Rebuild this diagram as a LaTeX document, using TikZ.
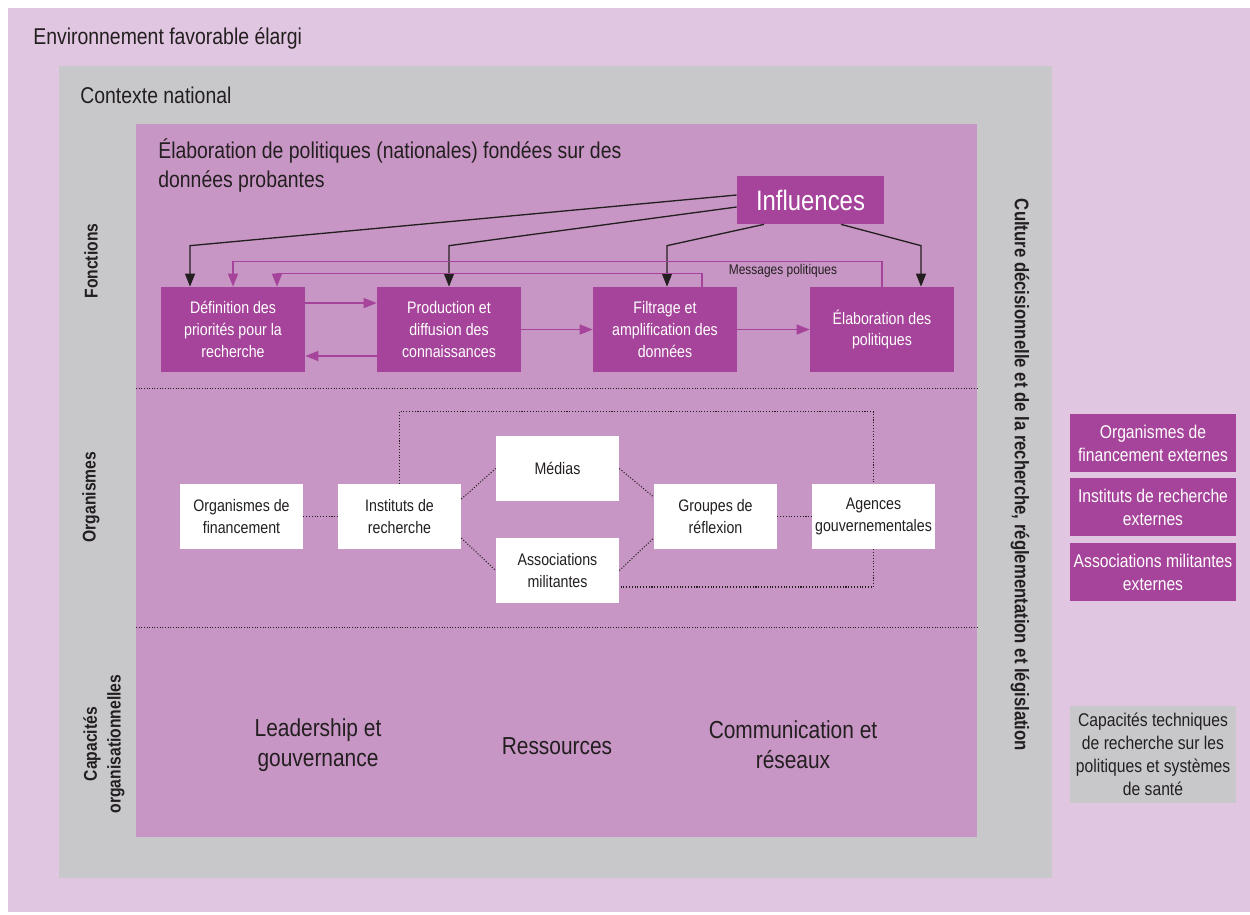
\documentclass[tikz,border=0pt]{standalone}
\usepackage{fontspec}
\setmainfont{Liberation Sans}[FakeStretch=0.85]
\usetikzlibrary{arrows.meta}
\definecolor{envbg}{RGB}{224,198,224}
\definecolor{ctxgray}{RGB}{200,200,202}
\definecolor{polbg}{RGB}{200,150,196}
\definecolor{plum}{RGB}{166,67,154}
\definecolor{ink}{RGB}{35,31,32}
\tikzset{
  fbox/.style={fill=plum, text=white, minimum width=2.88cm, minimum height=1.7cm, align=center, inner sep=0pt, font=\fontsize{9.5}{12.5}\selectfont},
  obox/.style={fill=white, text=ink, minimum width=2.46cm, minimum height=1.3cm, align=center, inner sep=0pt, font=\fontsize{9.5}{12.5}\selectfont},
  xbox/.style={fill=plum, text=white, minimum width=3.32cm, minimum height=1.16cm, align=center, inner sep=0pt, font=\fontsize{10.5}{13}\selectfont},
  title/.style={text=ink, anchor=west, inner sep=0pt, font=\fontsize{13}{16.5}\selectfont},
  sidelabel/.style={text=ink, inner sep=0pt, align=center, font=\fontsize{10.5}{13.5}\selectfont\bfseries},
  caplabel/.style={text=ink, inner sep=0pt, align=center, font=\fontsize{14}{17}\selectfont},
  inflarrow/.style={draw=ink, line width=0.75pt, -{Triangle[length=0.26cm,width=0.2cm]}},
  msgarrow/.style={draw=plum, line width=0.75pt, -{Triangle[length=0.26cm,width=0.2cm]}},
  orglink/.style={draw=ink, line width=0.6pt, densely dotted},
  sep/.style={draw=ink, line width=0.5pt, densely dotted}
}
\begin{document}
\begin{tikzpicture}[x=0.02cm, y=-0.02cm]
\useasboundingbox (0,0) rectangle (1250,914);
\fill[envbg] (8,8) rectangle (1250,912);
\fill[ctxgray] (59,66) rectangle (1052,878);
\fill[polbg] (136,124) rectangle (977,837);
\draw[sep] (136,388) -- (977,388);
\draw[sep] (136,627) -- (977,627);

\node[title] (tenv) at (33,38) {Environnement favorable élargi};
\node[title] (tctx) at (80,95) {Contexte national};
\node[title, anchor=north west, align=left] (tpol) at (158,138) {Élaboration de politiques (nationales) fondées sur des\\données probantes};

\node[sidelabel, rotate=90] (lfonc) at (91,261) {Fonctions};
\node[sidelabel, rotate=90] (lorg) at (91,497) {Organismes};
\node[sidelabel, rotate=90] (lcap) at (104,744) {Capacités\\organisationnelles};
\node[sidelabel, rotate=-90, font=\fontsize{11.2}{13.5}\selectfont\bfseries] (lcult) at (1020,475) {Culture décisionnelle et de la recherche, réglementation et législation};

\node[fill=plum, text=white, minimum width=2.94cm, minimum height=0.96cm, inner sep=0pt, font=\fontsize{16}{18}\selectfont] (infl) at (810.5,200) {Influences};

\node[fbox] (fdef) at (233,329.5) {Définition des\\priorités pour la\\recherche};
\node[fbox] (fprod) at (449,329.5) {Production et\\diffusion des\\connaissances};
\node[fbox] (ffil) at (665,329.5) {Filtrage et\\amplification des\\données};
\node[fbox] (fela) at (882,329.5) {Élaboration des\\politiques};

\draw[inflarrow] ([yshift=0.1cm]infl.west) -- ([xshift=-0.86cm,yshift=0.82cm]fdef.north) -- ([xshift=-0.86cm]fdef.north);
\draw[inflarrow] ([yshift=-0.14cm]infl.west) -- ([yshift=0.82cm]fprod.north) -- (fprod.north);
\draw[inflarrow] ([xshift=-0.93cm]infl.south) -- ([xshift=0.04cm,yshift=0.82cm]ffil.north) -- ([xshift=0.04cm]ffil.north);
\draw[inflarrow] ([xshift=0.61cm]infl.south) -- ([xshift=0.78cm,yshift=0.82cm]fela.north) -- ([xshift=0.78cm]fela.north);

\draw[msgarrow] (fela.north) -- ([yshift=0.5cm]fela.north) -| (fdef.north);
\draw[msgarrow] ([xshift=0.74cm]ffil.north) -- ([xshift=0.74cm,yshift=0.27cm]ffil.north) -| ([xshift=0.88cm]fdef.north);
\node[text=ink, inner sep=0pt, font=\fontsize{8}{10}\selectfont] (msg) at (783,271) {Messages politiques};

\draw[msgarrow] ([yshift=0.53cm]fdef.east) -- ([yshift=0.53cm]fprod.west);
\draw[msgarrow] ([yshift=-0.53cm]fprod.west) -- ([yshift=-0.53cm]fdef.east);
\draw[msgarrow] (fprod) -- (ffil);
\draw[msgarrow] (ffil) -- (fela);

\node[obox] (ofin) at (241.5,516.5) {Organismes de\\financement};
\node[obox] (oinst) at (399.5,516.5) {Instituts de\\recherche};
\node[obox] (omed) at (557.5,468.5) {Médias};
\node[obox] (oasso) at (557.5,570.5) {Associations\\militantes};
\node[obox] (ogrp) at (715.5,516.5) {Groupes de\\réflexion};
\node[obox] (oag) at (873.5,516.5) {Agences\\gouvernementales};

\draw[orglink] (ofin) -- (oinst);
\draw[orglink] ([yshift=0.35cm]oinst.east) -- (omed.west);
\draw[orglink] ([yshift=-0.43cm]oinst.east) -- (oasso.west);
\draw[orglink] (omed.east) -- ([yshift=0.39cm]ogrp.west);
\draw[orglink] (oasso.east) -- ([yshift=-0.43cm]ogrp.west);
\draw[orglink] (ogrp) -- (oag);
\draw[orglink] (oinst.north) -- ([yshift=1.44cm]oinst.north) -| (oag.north);
\draw[orglink] (oag.south) |- ([yshift=-0.33cm]oasso.east);

\node[caplabel] (clead) at (318,745) {Leadership et\\gouvernance};
\node[caplabel] (cres) at (557,746) {Ressources};
\node[caplabel] (ccom) at (793,745) {Communication et\\réseaux};

\node[xbox] (xfin) at (1153,443) {Organismes de\\financement externes};
\node[xbox] (xinst) at (1153,507) {Instituts de recherche\\externes};
\node[xbox] (xasso) at (1153,572) {Associations militantes\\externes};
\node[xbox, fill=ctxgray, text=ink, minimum height=1.94cm] (xtech) at (1153,754.5) {Capacités techniques\\de recherche sur les\\politiques et systèmes\\de santé};
\end{tikzpicture}
\end{document}
